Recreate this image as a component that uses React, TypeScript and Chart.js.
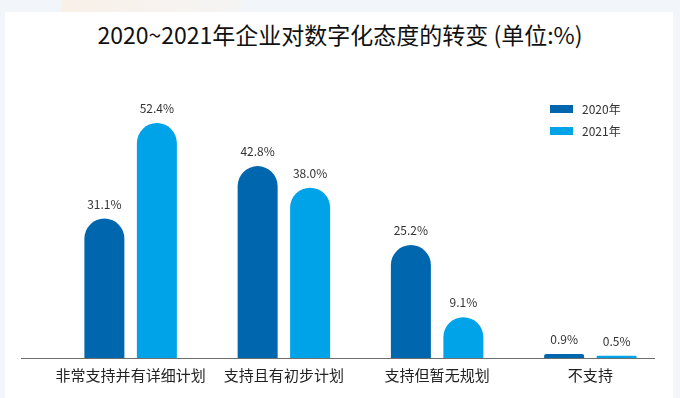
import React, { useEffect, useRef } from "react";
import { Chart, registerables } from "chart.js";

Chart.register(...registerables);

const titleText = "2020~2021年企业对数字化态度的转变 (单位:%)";
const categories = ["非常支持并有详细计划", "支持且有初步计划", "支持但暂无规划", "不支持"];
const seriesNames = ["2020年", "2021年"];
const values2020 = [31.1, 42.8, 25.2, 0.9];
const values2021 = [52.4, 38.0, 9.1, 0.5];
const seriesColors = ["#0066ae", "#00a2e8"];

const FONT = "'Noto Sans CJK SC', 'Noto Sans', sans-serif";

const overlayPlugin = {
  id: "overlay",
  afterDatasetsDraw(chart: any) {
    const ctx = chart.ctx as CanvasRenderingContext2D;
    const area = chart.chartArea;
    ctx.save();
    // baseline axis
    const y0 = Math.round(chart.scales.y.getPixelForValue(0));
    ctx.strokeStyle = "#6e6e6e";
    ctx.lineWidth = 1;
    ctx.beginPath();
    ctx.moveTo(area.left - 33, y0 + 0.5);
    ctx.lineTo(area.right - 12, y0 + 0.5);
    ctx.stroke();
    // value labels
    ctx.font = `12px ${FONT}`;
    ctx.fillStyle = "#333333";
    ctx.textAlign = "center";
    ctx.textBaseline = "alphabetic";
    chart.data.datasets.forEach((ds: any, di: number) => {
      chart.getDatasetMeta(di).data.forEach((el: any, i: number) => {
        const v = ds.data[i] as number;
        ctx.fillText(v.toFixed(1) + "%", el.x, el.y - 10);
      });
    });
    // legend
    ctx.textAlign = "left";
    ctx.textBaseline = "middle";
    chart.data.datasets.forEach((ds: any, di: number) => {
      const ly = 105 + di * 22;
      ctx.fillStyle = ds.backgroundColor;
      ctx.fillRect(550, ly, 23, 8);
      ctx.fillStyle = "#333333";
      ctx.fillText(ds.label, 582, ly + 4.5);
    });
    ctx.restore();
  },
};

export default function App() {
  const canvasRef = useRef<HTMLCanvasElement | null>(null);

  useEffect(() => {
    document.body.style.margin = "0";
    const canvas = canvasRef.current;
    if (!canvas) return;
    const barRadius = { topLeft: 20, topRight: 20, bottomLeft: 0, bottomRight: 0 };
    const chart = new Chart(canvas, {
      type: "bar",
      data: {
        labels: categories,
        datasets: [
          {
            label: seriesNames[0],
            data: values2020,
            backgroundColor: seriesColors[0],
            borderRadius: barRadius,
            borderSkipped: false,
            barPercentage: 0.762,
            categoryPercentage: 0.685,
          },
          {
            label: seriesNames[1],
            data: values2021,
            backgroundColor: seriesColors[1],
            borderRadius: barRadius,
            borderSkipped: false,
            barPercentage: 0.762,
            categoryPercentage: 0.685,
          },
        ],
      },
      options: {
        responsive: false,
        animation: false,
        layout: { padding: { left: 54, right: 13, top: 89, bottom: 0 } },
        plugins: {
          legend: { display: false },
          title: { display: false },
          tooltip: { enabled: false },
        },
        scales: {
          x: {
            grid: { display: false, drawTicks: false },
            border: { display: false },
            ticks: {
              color: "#222222",
              font: { family: FONT, size: 15 },
              padding: 8,
              maxRotation: 0,
              autoSkip: false,
            },
            afterFit(scale: any) {
              scale.height = 40;
            },
          },
          y: {
            display: false,
            min: 0,
            max: 60,
          },
        },
      },
      plugins: [overlayPlugin],
    } as any);
    return () => chart.destroy();
  }, []);

  return (
    <div style={{ position: "relative", width: 680, height: 398, background: "#f2f5f9", overflow: "hidden" }}>
      <div
        style={{
          position: "absolute",
          left: 61,
          top: 0,
          width: 180,
          height: 12,
          background: "linear-gradient(90deg, rgba(250,240,230,0.9), rgba(250,244,238,0.4))",
        }}
      />
      <div style={{ position: "absolute", left: 5, top: 12, width: 668, height: 386, background: "#ffffff" }} />
      <div
        style={{
          position: "absolute",
          left: 0,
          top: 19,
          width: 680,
          textAlign: "center",
          fontFamily: FONT,
          fontSize: 23,
          lineHeight: "30px",
          color: "#111111",
          whiteSpace: "nowrap",
        }}
      >
        {titleText}
      </div>
      <canvas ref={canvasRef} width={680} height={398} style={{ position: "absolute", left: 0, top: 0 }} />
    </div>
  );
}
